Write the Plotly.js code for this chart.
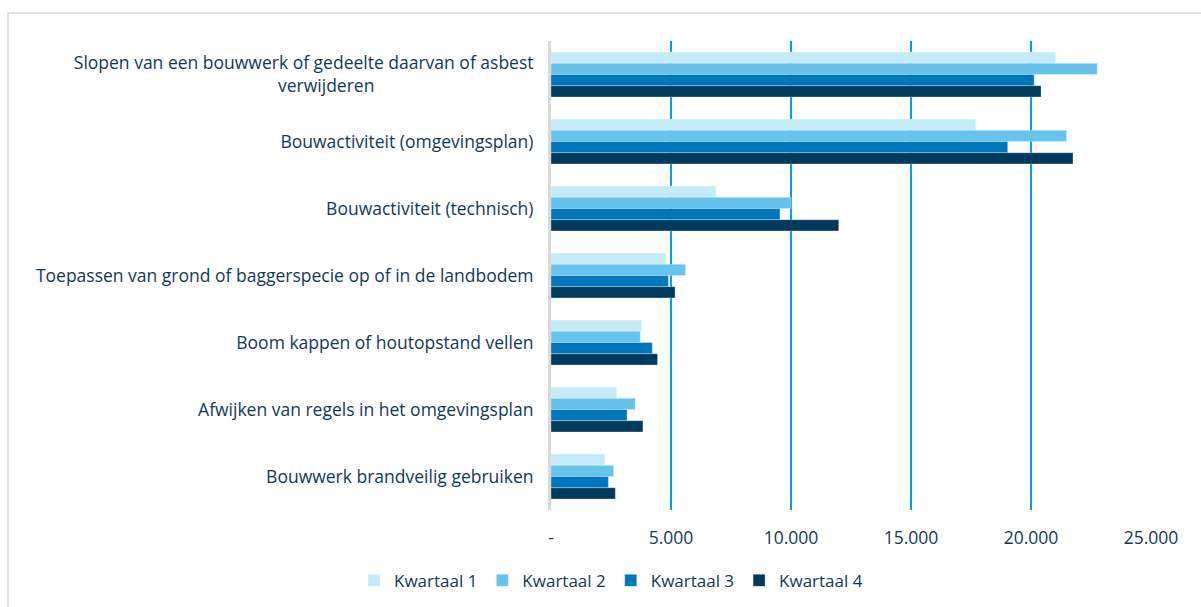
<!DOCTYPE html>
<html>
<head>
<meta charset="utf-8">
<script src="https://cdn.plot.ly/plotly-3.0.1.min.js"></script>
<style>
  html, body { margin: 0; padding: 0; background: #ffffff; }
  #chart { width: 1201px; height: 607px; }
</style>
</head>
<body>
<div id="chart"></div>
<script>
const PAD = '\u00a0'.repeat(35);
const categories = [
  'Slopen van een bouwwerk of gedeelte daarvan of asbest<br>verwijderen' + PAD,
  'Bouwactiviteit (omgevingsplan)',
  'Bouwactiviteit (technisch)',
  'Toepassen van grond of baggerspecie op of in de landbodem',
  'Boom kappen of houtopstand vellen',
  'Afwijken van regels in het omgevingsplan',
  'Bouwwerk brandveilig gebruiken'
];
const seriesNames = ['Kwartaal 1', 'Kwartaal 2', 'Kwartaal 3', 'Kwartaal 4'];
const kwartaal1 = [21030, 17700, 6880, 4790, 3780, 2740, 2240];
const kwartaal2 = [22760, 21480, 10000, 5610, 3720, 3510, 2610];
const kwartaal3 = [20130, 19030, 9540, 4890, 4220, 3170, 2390];
const kwartaal4 = [20420, 21750, 11990, 5170, 4440, 3830, 2680];
const tickValues = [0, 5000, 10000, 15000, 20000, 25000];
const tickLabels = ['-', '5.000', '10.000', '15.000', '20.000', '25.000'];
const colors = ['#c5ebf9', '#66c3ec', '#0077bb', '#003a5d'];

const allSeries = [kwartaal1, kwartaal2, kwartaal3, kwartaal4];
const textColor = '#12395a';
const traces = allSeries.map((vals, i) => ({
  type: 'bar',
  orientation: 'h',
  name: seriesNames[i],
  x: vals,
  y: categories,
  marker: { color: colors[i], line: { color: 'rgba(255,255,255,0.6)', width: 0.5 } },
  hoverinfo: 'x+name'
}));

const layout = {
  width: 1201,
  height: 607,
  paper_bgcolor: '#ffffff',
  plot_bgcolor: '#ffffff',
  margin: { l: 551, r: 50, t: 41, b: 97, autoexpand: false },
  font: { family: 'Open Sans, sans-serif', size: 17.5, color: textColor },
  barmode: 'group',
  bargap: 0.33,
  bargroupgap: 0,
  showlegend: true,
  legend: {
    orientation: 'h',
    x: 0.1, xanchor: 'center',
    y: -0.151, yanchor: 'middle',
    font: { size: 17, color: textColor },
    itemwidth: 30,
    traceorder: 'normal'
  },
  xaxis: {
    range: [0, 25000],
    tickvals: tickValues,
    ticktext: tickLabels,
    showgrid: true,
    gridcolor: '#00a3e0',
    gridwidth: 2,
    zeroline: false,
    showline: false,
    ticks: '',
    ticklabelstandoff: 15,
    tickfont: { size: 17.5, color: textColor },
    fixedrange: true
  },
  yaxis: {
    autorange: 'reversed',
    showgrid: false,
    zeroline: false,
    showline: true,
    linecolor: '#d9d9d9',
    linewidth: 3,
    ticks: '',
    ticklabelstandoff: 11,
    tickfont: { size: 17.5, color: textColor },
    fixedrange: true
  },
  shapes: [{
    type: 'rect', xref: 'paper', yref: 'paper',
    x0: -0.905, x1: 1.2, y0: -0.4, y1: 1.0597,
    line: { color: '#d9d9d9', width: 1.5 },
    fillcolor: 'rgba(0,0,0,0)',
    layer: 'below'
  }]
};

Plotly.newPlot('chart', traces, layout, { displayModeBar: false, staticPlot: true });
</script>
</body>
</html>
